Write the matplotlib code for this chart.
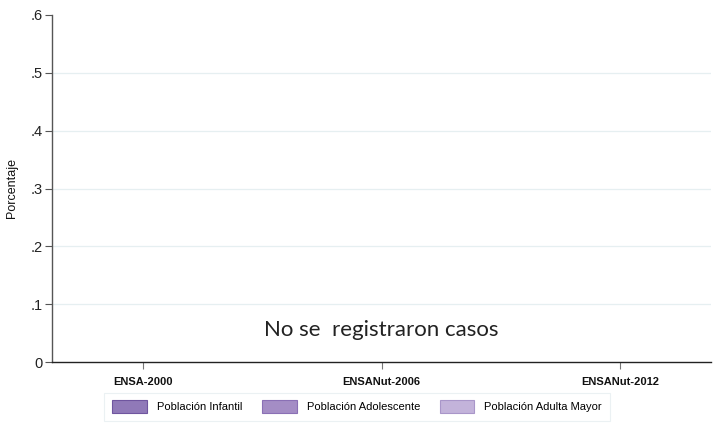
import matplotlib.pyplot as plt
import numpy as np

plt.rcParams['font.family'] = ['Liberation Sans', 'DejaVu Sans']

# survey rounds and groups; no cases were recorded so every bar is zero
surveys = ['ENSA-2000', 'ENSANut-2006', 'ENSANut-2012']
groups = ['Población Infantil', 'Población Adolescente', 'Población Adulta Mayor']
infantil = [0, 0, 0]
adolescente = [0, 0, 0]
adulta_mayor = [0, 0, 0]
yticks = [0, 0.1, 0.2, 0.3, 0.4, 0.5, 0.6]
ytick_labels = ['0', '.1', '.2', '.3', '.4', '.5', '.6']

colors = ['#9079b8', '#a48dc5', '#c3b3da']
edges = ['#6f559f', '#8a70b5', '#a996c9']

fig = plt.figure(figsize=(7.19, 4.43), dpi=100)
ax = fig.add_axes([52 / 719, 81 / 443, 659 / 719, 347 / 443])

x = np.arange(len(surveys))
w = 0.25
for i, (vals, lab) in enumerate(zip([infantil, adolescente, adulta_mayor], groups)):
    ax.bar(x + (i - 1) * w, vals, w, color=colors[i], edgecolor=edges[i],
           linewidth=0, label=lab)

ax.set_xlim(-0.38, 2.38)
ax.set_ylim(0, 0.6)
ax.set_yticks(yticks)
ax.set_yticklabels(ytick_labels, fontsize=10.5, color='#222222')
ax.set_xticks(x)
ax.set_xticklabels(surveys, fontsize=8, fontweight='bold', color='#111111')
ax.tick_params(axis='y', length=5, width=0.8, color='#555555', pad=2)
ax.tick_params(axis='x', length=5, width=0.8, color='#777777', pad=6)
for y in yticks[1:-1]:
    ax.axhline(y, color='#e6eff1', lw=0.9, zorder=0)

ax.spines['top'].set_visible(False)
ax.spines['right'].set_visible(False)
ax.spines['left'].set_color('#555555')
ax.spines['bottom'].set_color('#222222')
ax.spines['left'].set_linewidth(1.0)
ax.spines['bottom'].set_linewidth(1.0)

ax.set_ylabel('Porcentaje', fontsize=9, color='#111111')
ax.yaxis.set_label_coords(-34 / 659, 0.5)

ax.text(1.0, 0.055, 'No se  registraron casos', ha='center', va='center',
        fontsize=16, family='Lato', color='#222222')

leg = ax.legend(loc='upper center', bbox_to_anchor=(0.463, -0.072), ncol=3,
                fontsize=8, frameon=True, handlelength=3.1, handleheight=1.4,
                columnspacing=1.8, borderpad=0.7, handletextpad=0.9)
leg.get_frame().set_edgecolor('#e6eef0')
leg.get_frame().set_linewidth(0.8)
leg.get_frame().set_boxstyle('square', pad=0)
for h, e in zip(leg.legend_handles, edges):
    h.set_edgecolor(e)
    h.set_linewidth(0.8)

fig.savefig('out.png', dpi=100)
